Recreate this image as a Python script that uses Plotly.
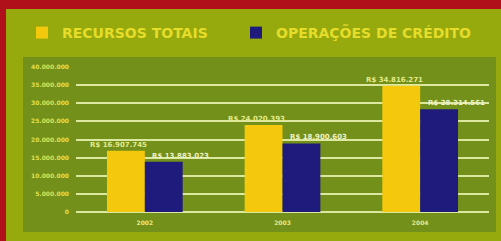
import plotly.graph_objects as go

years = ["2002", "2003", "2004"]
recursos_totais = [16907745, 24020393, 34816271]
operacoes_credito = [13883023, 18900603, 28314561]
tick_vals = [0, 5000000, 10000000, 15000000, 20000000, 25000000, 30000000, 35000000, 40000000]
tick_text = ["0", "5.000.000", "10.000.000", "15.000.000", "20.000.000", "25.000.000",
             "30.000.000", "35.000.000", "40.000.000"]


def brl(v):
    return "R$ " + f"{v:,}".replace(",", ".")


fig = go.Figure()
fig.add_trace(go.Bar(
    name="RECURSOS TOTAIS", x=years, y=recursos_totais,
    marker=dict(color="#f4c80c", line=dict(width=0)),
    legend="legend", hoverinfo="skip",
))
fig.add_trace(go.Bar(
    name="OPERAÇÕES DE CRÉDITO", x=years, y=operacoes_credito,
    marker=dict(color="#1f1b7c", line=dict(width=0)),
    legend="legend2", hoverinfo="skip",
))

# value labels: category index positions (numeric-looking year strings would be read as indices)
label_font_y = dict(size=7, color="#e4ea8a", family="DejaVu Sans", weight="bold")
label_font_b = dict(size=7, color="#eef2c8", family="DejaVu Sans", weight="bold")
for i, v in enumerate(recursos_totais):
    fig.add_annotation(x=i, y=v, text=brl(v), showarrow=False, xref="x", yref="y",
                       xanchor="center", yanchor="bottom", xshift=-26, yshift=0,
                       font=label_font_y)
for i, v in enumerate(operacoes_credito):
    fig.add_annotation(x=i, y=v, text=brl(v), showarrow=False, xref="x", yref="y",
                       xanchor="center", yanchor="bottom", xshift=36, yshift=0,
                       font=label_font_b)

W, H = 501, 241
pl, pr, pt, pb = 76, 12, 67, 29
pw, ph = W - pl - pr, H - pt - pb


def px(x):
    return (x - pl) / pw


def py(y):
    return (H - pb - y) / ph


legend_font = dict(family="DejaVu Sans", size=14, color="#e6dc2a", weight="bold")

fig.update_layout(
    width=W, height=H,
    margin=dict(l=pl, r=pr, t=pt, b=pb, autoexpand=False),
    paper_bgcolor="#96aa0e",
    plot_bgcolor="rgba(0,0,0,0)",
    barmode="group", bargap=0.45, bargroupgap=0,
    showlegend=True,
    legend=dict(orientation="h", xref="container", yref="container",
                x=22 / W, y=1 - 33 / H, xanchor="left", yanchor="middle",
                font=legend_font, bgcolor="rgba(0,0,0,0)"),
    legend2=dict(orientation="h", xref="container", yref="container",
                 x=236 / W, y=1 - 33 / H, xanchor="left", yanchor="middle",
                 font=legend_font, bgcolor="rgba(0,0,0,0)"),
    xaxis=dict(type="category", range=[-0.5, 2.5], showgrid=False,
               tickfont=dict(size=6, color="#e8e88a", family="DejaVu Sans", weight="bold"),
               ticks="", showline=False, zeroline=False, automargin=False, ticklabelstandoff=6),
    yaxis=dict(range=[0, 40000000], tickvals=tick_vals, ticktext=tick_text,
               tickfont=dict(size=6, color="#e0e050", family="DejaVu Sans", weight="bold"),
               showgrid=True, gridcolor="#dce8a0", gridwidth=2,
               zeroline=True, zerolinecolor="#dce8a0", zerolinewidth=2,
               ticks="", ticklabelstandoff=6, automargin=False),
    font=dict(family="DejaVu Sans"),
    hovermode=False,
    shapes=[
        dict(type="rect", xref="paper", yref="paper", x0=px(23), x1=px(496), y0=py(232), y1=py(57),
             fillcolor="#73901a", line=dict(width=0), layer="below"),
        dict(type="rect", xref="paper", yref="paper", x0=px(0), x1=px(W), y0=py(9), y1=py(0),
             fillcolor="#b0101a", line=dict(width=0), layer="below"),
        dict(type="rect", xref="paper", yref="paper", x0=px(0), x1=px(6), y0=py(H), y1=py(0),
             fillcolor="#b0101a", line=dict(width=0), layer="below"),
    ],
)

fig.write_html("out.html", config={"displayModeBar": False},
               post_script="document.body.style.margin='0';document.body.style.overflow='hidden';")
